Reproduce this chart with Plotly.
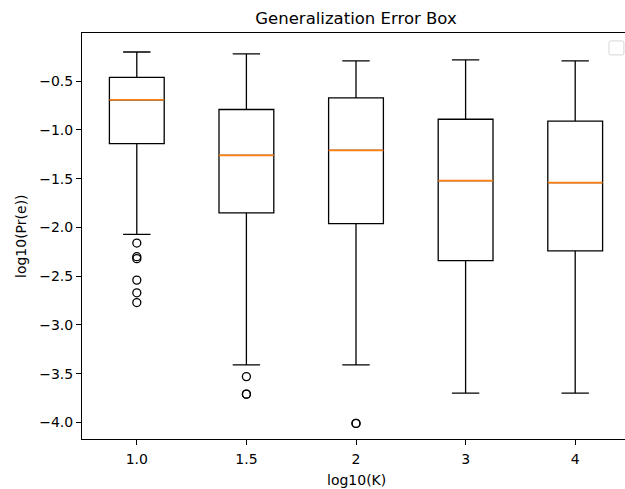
import plotly.graph_objects as go

# ---- data ----
categories = ["1.0", "1.5", "2", "3", "4"]
positions = [1, 2, 3, 4, 5]
upper_whisker = [-0.20, -0.22, -0.29, -0.28, -0.29]
q3_values = [-0.46, -0.79, -0.67, -0.89, -0.91]
median_values = [-0.69, -1.26, -1.21, -1.52, -1.54]
q1_values = [-1.14, -1.85, -1.96, -2.34, -2.24]
lower_whisker = [-2.07, -3.41, -3.41, -3.70, -3.70]
outliers_1 = [-2.16, -2.30, -2.32, -2.54, -2.67, -2.77]
outliers_2 = [-3.53, -3.71, -3.71]
outliers_3 = [-4.01, -4.01]
outliers_4 = []
outliers_5 = []
y_ticks = [-0.5, -1.0, -1.5, -2.0, -2.5, -3.0, -3.5, -4.0]

outlier_groups = [outliers_1, outliers_2, outliers_3, outliers_4, outliers_5]
out_x, out_y = [], []
for p, grp in zip(positions, outlier_groups):
    out_x += [p] * len(grp)
    out_y += grp

FONT = "DejaVu Sans"

fig = go.Figure()
fig.add_trace(go.Box(
    x=positions, q1=q1_values, median=median_values, q3=q3_values,
    lowerfence=lower_whisker, upperfence=upper_whisker,
    width=0.5, whiskerwidth=0.5,
    line=dict(color="black", width=1.3),
    fillcolor="rgba(0,0,0,0)", boxpoints=False, showlegend=False,
    hoverinfo="skip",
))
# median lines (orange) drawn as flat boxes at the median
fig.add_trace(go.Box(
    x=positions, q1=median_values, median=median_values, q3=median_values,
    lowerfence=median_values, upperfence=median_values,
    width=0.5, whiskerwidth=0,
    line=dict(color="#ff7f0e", width=1.7),
    fillcolor="rgba(0,0,0,0)", boxpoints=False, showlegend=False,
    hoverinfo="skip",
))
fig.add_trace(go.Scatter(
    x=out_x, y=out_y, mode="markers",
    marker=dict(symbol="circle-open", size=8, color="black", line=dict(width=1.3)),
    showlegend=False, hoverinfo="skip",
))

axis_common = dict(
    showline=True, linecolor="black", linewidth=1,
    ticks="outside", ticklen=5, tickwidth=1, tickcolor="black",
    showgrid=False, zeroline=False, automargin=False,
    tickfont=dict(family=FONT, size=14, color="black"),
)

# plot area: left 82px, top 33px, bottom 438px; right edge cropped at image border
L, T, B = 82, 33, 50
plot_w = 625 - L
plot_h = 489 - T - B
unit_px = 109.6
x_right = 0.5 + plot_w / unit_px

fig.update_layout(
    width=625, height=489,
    margin=dict(l=L, r=0, t=T, b=B, autoexpand=False),
    paper_bgcolor="white", plot_bgcolor="white",
    boxmode="overlay",
    hovermode=False,
    title=dict(text="Generalization Error Box", x=356 / 625, xanchor="center",
               y=1 - 18 / 489, yanchor="middle",
               font=dict(family=FONT, size=16.5, color="black")),
    xaxis=dict(range=[0.5, x_right], tickvals=positions, ticktext=categories,
               mirror=True, ticklabelstandoff=2, **axis_common),
    yaxis=dict(range=[-4.17, -0.005], tickvals=y_ticks,
               ticktext=[("\u2212%.1f" % abs(v)) for v in y_ticks],
               mirror=False, **axis_common),
    annotations=[
        dict(text="log10(K)", xref="paper", yref="paper", x=(356 - L) / plot_w,
             y=-(480 - (T + plot_h)) / plot_h,
             xanchor="center", yanchor="middle", showarrow=False,
             font=dict(family=FONT, size=14, color="black")),
        dict(text="log10(Pr(e))", xref="paper", yref="paper", x=(21 - L) / plot_w, y=0.5,
             xanchor="center", yanchor="middle", showarrow=False, textangle=-90,
             font=dict(family=FONT, size=14, color="black")),
    ],
    shapes=[dict(type="path", xref="paper", yref="paper",
                 path="M %f,%f L %f,%f Q %f,%f %f,%f L %f,%f Q %f,%f %f,%f L %f,%f Q %f,%f %f,%f L %f,%f Q %f,%f %f,%f Z" % (
                     0.9745, 0.9805, 0.9955, 0.9805, 0.998, 0.9805, 0.998, 0.975,
                     0.998, 0.951, 0.998, 0.946, 0.9955, 0.946,
                     0.9745, 0.946, 0.9705, 0.946, 0.9705, 0.951,
                     0.9705, 0.975, 0.9705, 0.9805, 0.9745, 0.9805),
                 line=dict(color="#d6d6d6", width=1), fillcolor="white")],
)

fig.write_html("out.html", config={"displayModeBar": False, "staticPlot": True},
               post_script="document.body.style.margin='0px';document.body.style.padding='0px';")
